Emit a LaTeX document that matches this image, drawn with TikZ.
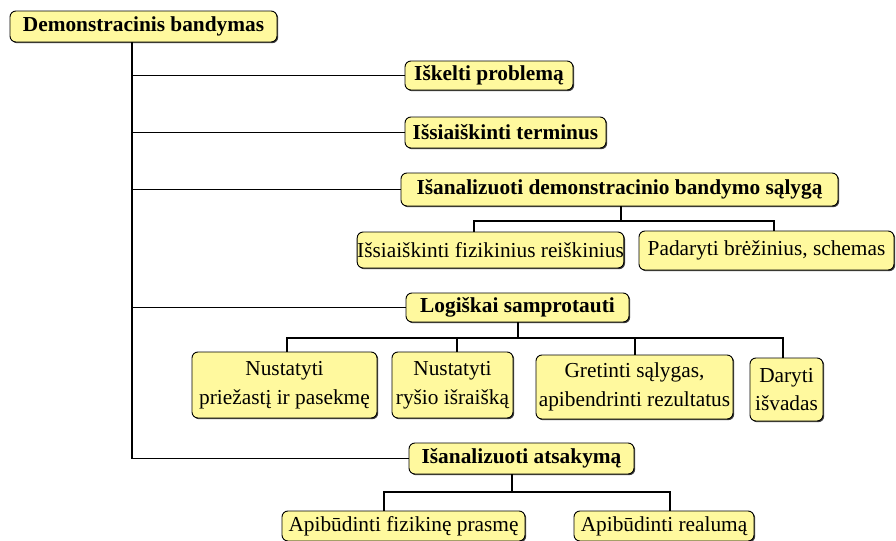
\documentclass[tikz,border=0pt]{standalone}
\usepackage{fontspec}
\setmainfont{Liberation Serif}
\usetikzlibrary{shadows}
\definecolor{boxfill}{HTML}{FFF99E}
\tikzset{
  px/.style={x=0.75pt,y=-0.75pt},
  bx/.style n args={2}{minimum width=#1*0.75pt, minimum height=#2*0.75pt},
  tbox/.style={draw=black, line width=0.7pt, fill=boxfill, rounded corners=4.5pt,
    inner sep=0pt, align=center,
    drop shadow={shadow xshift=0.9pt, shadow yshift=-0.9pt, fill=black!75, opacity=1},
    font=\fontsize{16}{21.5}\selectfont},
  head/.style={tbox, font=\fontsize{16}{21.5}\selectfont\bfseries},
  conn/.style={draw=black, line width=0.8pt}
}
\begin{document}
\begin{tikzpicture}[px]
\useasboundingbox (0,0) rectangle (896,540);
\node[head, bx={267}{31}] (A) at (143.5,26.5) {Demonstracinis bandymas};
\node[head, bx={168}{29}] (B) at (489,75.5) {Iškelti problemą};
\node[head, bx={201}{31}] (C) at (505.5,132.5) {Išsiaiškinti terminus};
\node[head, bx={437}{33}] (D) at (619.5,189.5) {Išanalizuoti demonstracinio bandymo sąlygą};
\node[tbox, bx={261}{36}] (E) at (490.5,250) {Išsiaiškinti fizikinius reiškinius};
\node[tbox, bx={255}{39}] (F) at (766.5,250.5) {Padaryti brėžinius, schemas};
\node[head, bx={223}{29}] (G) at (517.5,307.5) {Logiškai samprotauti};
\node[tbox, bx={185}{66}] (H1) at (284.5,385) {Nustatyti\\priežastį ir pasekmę};
\node[tbox, bx={121}{66}] (H2) at (452.5,385) {Nustatyti\\ryšio išraišką};
\node[tbox, bx={197}{64}] (H3) at (634.5,387) {Gretinti sąlygas,\\apibendrinti rezultatus};
\node[tbox, bx={73}{63}] (H4) at (786.5,389.5) {Daryti\\išvadas};
\node[head, bx={225}{31}] (I) at (521.5,458.5) {Išanalizuoti atsakymą};
\node[tbox, bx={243}{30}] (J1) at (403.5,526) {Apibūdinti fizikinę prasmę};
\node[tbox, bx={180}{30}] (J2) at (664,526) {Apibūdinti realumą};
% trunk
\coordinate (T) at (132,42);
\draw[conn] (T) |- (I.west);
\draw[conn] (T |- B.west) -- (B.west);
\draw[conn] (T |- C.west) -- (C.west);
\draw[conn] (T |- D.west) -- (D.west);
\draw[conn] (T |- G.west) -- (G.west);
% D children
\coordinate (dD) at (621,221);
\coordinate (dE) at (474,221);
\coordinate (dF) at (774,221);
\draw[conn] (D.south -| dD) -- (dD);
\draw[conn] (dE |- E.north) -- (dE) -- (dF) -- (dF |- F.north);
% G children
\coordinate (dG) at (518,338);
\coordinate (g1) at (287,338);
\coordinate (g2) at (457,338);
\coordinate (g3) at (635,338);
\coordinate (g4) at (783,338);
\draw[conn] (G.south -| dG) -- (dG);
\draw[conn] (g1 |- H1.north) -- (g1) -- (g4) -- (g4 |- H4.north);
\draw[conn] (g2) -- (g2 |- H2.north);
\draw[conn] (g3) -- (g3 |- H3.north);
% I children
\coordinate (dI) at (512,492);
\coordinate (i1) at (384,492);
\coordinate (i2) at (670,492);
\draw[conn] (I.south -| dI) -- (dI);
\draw[conn] (i1 |- J1.north) -- (i1) -- (i2) -- (i2 |- J2.north);
\end{tikzpicture}
\end{document}
